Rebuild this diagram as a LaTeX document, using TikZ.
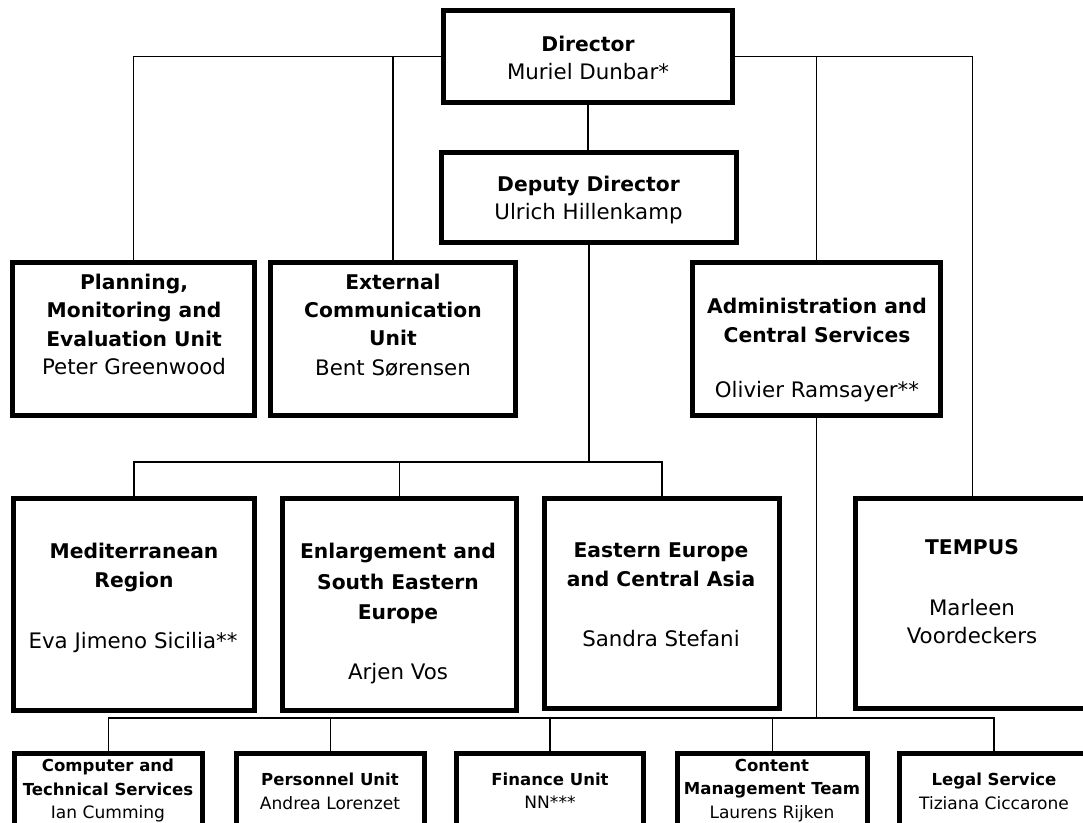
\documentclass[tikz,border=0pt]{standalone}
\usepackage{fontspec}
\setmainfont{DejaVu Sans}
\usetikzlibrary{calc}
\tikzset{
  boxst/.style={draw=black, line width=3.75pt, inner sep=0pt, line join=miter},
  conn/.style={draw=black, line width=1.3pt},
  ttl/.style={font=\fontsize{15.2}{#1}\selectfont\bfseries, align=center, anchor=north, inner sep=0pt},
  ttl/.default=21pt,
  nm/.style={font=\fontsize{16}{#1}\selectfont, align=center, anchor=north, inner sep=0pt},
  nm/.default=21pt,
  ttls/.style={font=\fontsize{12.4}{17.5pt}\selectfont\bfseries, align=center, anchor=north, inner sep=0pt},
  nms/.style={font=\fontsize{12.8}{17.5pt}\selectfont, align=center, anchor=north, inner sep=0pt}
}
\begin{document}
\begin{tikzpicture}[x=0.75pt,y=-0.75pt]
\useasboundingbox (0,0) rectangle (1083,823);
\clip (0,0) rectangle (1083,823);
% boxes
\node[boxst, minimum width=216.75pt, minimum height=69pt] (dir) at (588,56.5) {};
\node[boxst, minimum width=221.25pt, minimum height=67.5pt] (dep) at (589,197.5) {};
\node[boxst, minimum width=181.5pt, minimum height=114.75pt] (plan) at (133.5,339) {};
\node[boxst, minimum width=183.75pt, minimum height=114.75pt] (ext) at (393,339) {};
\node[boxst, minimum width=186pt, minimum height=114.75pt] (adm) at (816.5,339) {};
\node[boxst, minimum width=180.75pt, minimum height=159pt] (med) at (134,604.5) {};
\node[boxst, minimum width=175.5pt, minimum height=159pt] (enl) at (399.5,604.5) {};
\node[boxst, minimum width=176.25pt, minimum height=157.5pt] (eas) at (662,603.5) {};
\node[boxst, minimum width=175.5pt, minimum height=157.5pt] (tem) at (972.5,603.5) {};
\node[boxst, minimum width=141pt, minimum height=60pt] (cts) at (108.5,793.5) {};
\node[boxst, minimum width=141pt, minimum height=60pt] (per) at (330.5,793.5) {};
\node[boxst, minimum width=140.25pt, minimum height=60pt] (fin) at (550,793.5) {};
\node[boxst, minimum width=142.5pt, minimum height=60pt] (cmt) at (772.5,793.5) {};
\node[boxst, minimum width=141.75pt, minimum height=60pt] (leg) at (994,793.5) {};
% texts
\node[ttl] (tdir) at (588,36) {Director};
\node[nm] (ndir) at (588,63) {Muriel Dunbar*};
\node[ttl] (tdep) at (588.5,176) {Deputy Director};
\node[nm] (ndep) at (588.5,203) {Ulrich Hillenkamp};
\node[ttl=21.2pt] (tplan) at (134,274) {Planning,\\Monitoring and\\Evaluation Unit};
\node[nm] (nplan) at (134,358) {Peter Greenwood};
\node[ttl=20.8pt] (text) at (393,274) {External\\Communication\\Unit};
\node[nm] (next) at (393,359) {Bent Sørensen};
\node[ttl=21.75pt] (tadm) at (817,298) {Administration and\\Central Services};
\node[nm] (nadm) at (817,381) {Olivier Ramsayer**};
\node[ttl=21.75pt] (tmed) at (134,543) {Mediterranean\\Region};
\node[nm] (nmed) at (133,632) {Eva Jimeno Sicilia**};
\node[ttl=22.9pt] (tenl) at (398,543) {Enlargement and\\South Eastern\\Europe};
\node[nm] (nenl) at (398,663) {Arjen Vos};
\node[ttl=21.75pt] (teas) at (661,542) {Eastern Europe\\and Central Asia};
\node[nm] (neas) at (661,630) {Sandra Stefani};
\node[ttl] (ttem) at (972,539) {TEMPUS};
\node[nm=21pt] (ntem) at (972,599) {Marleen\\Voordeckers};
\node[ttls] (tcts) at (108,759) {Computer and\\Technical Services};
\node[nms] (ncts) at (108,805) {Ian Cumming};
\node[ttls] (tper) at (330,773) {Personnel Unit};
\node[nms] (nper) at (330,796) {Andrea Lorenzet};
\node[ttls] (tfin) at (550,773) {Finance Unit};
\node[nms] (nfin) at (550,796) {NN***};
\node[ttls] (tcmt) at (772,759) {Content\\Management Team};
\node[nms] (ncmt) at (772,805) {Laurens Rijken};
\node[ttls] (tleg) at (994,773) {Legal Service};
\node[nms] (nleg) at (994,796) {Tiziana Ciccarone};
% connectors
\coordinate (j1) at (589,462);
\coordinate (j2) at (817,718);
\draw[conn] (dir.west) -| (plan.north);
\draw[conn] (ext.north) -- (ext.north |- dir.west);
\draw[conn] (dir.east) -| (tem.north);
\draw[conn] (adm.north) -- (adm.north |- dir.east);
\draw[conn] (dir.south) -- (dir.south |- dep.north);
\draw[conn] (dep.south) -- (dep.south |- j1);
\draw[conn] (med.north) |- (eas.north |- j1) -- (eas.north);
\draw[conn] (enl.north) -- (enl.north |- j1);
\draw[conn] (adm.south) -- (adm.south |- j2);
\draw[conn] (cts.north) |- (leg.north |- j2) -- (leg.north);
\draw[conn] (per.north) -- (per.north |- j2);
\draw[conn] (fin.north) -- (fin.north |- j2);
\draw[conn] (cmt.north) -- (cmt.north |- j2);
\end{tikzpicture}
\end{document}
